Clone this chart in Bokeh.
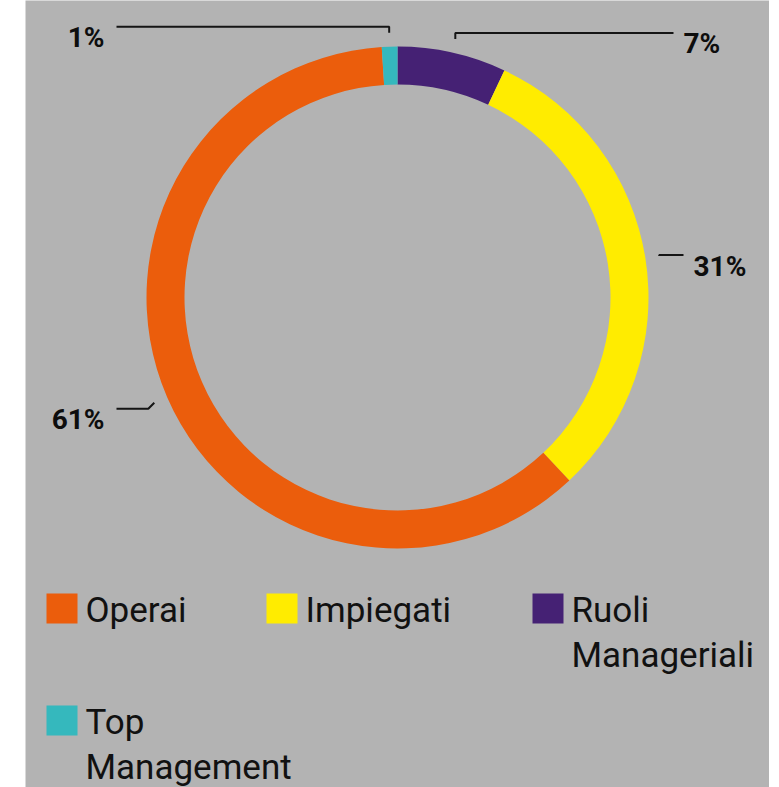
import math
from bokeh.plotting import figure
from bokeh.models import Range1d, Spacer
from bokeh.layouts import row
from bokeh.embed import file_html
from bokeh.resources import INLINE
from bokeh.core.properties import value

# ---- data (clockwise from 12 o'clock) ----
categories = ["Ruoli Manageriali", "Impiegati", "Operai", "Top Management"]
shares = [7, 31, 61, 1]
pct_labels = ["7%", "31%", "61%", "1%"]
colors = ["#452174", "#ffec00", "#eb5d0c", "#35b8bd"]
legend_order = ["Operai", "Impiegati", "Ruoli Manageriali", "Top Management"]

# ---- layout (page pixels) ----
BG = "#b3b3b3"
PAGE_X0, PAGE_Y0 = 25, 0
W, H = 744, 787
CX, CY = 397, 297
R_OUT, R_IN = 251, 213
R_LEAD = 265
# leader: (elbow dx, elbow dy, horizontal end x, side)
leader_layout = {
    "Ruoli Manageriali": (0, -6, 673, "right"),
    "Impiegati": (0, -1, 683, "right"),
    "Operai": (-6, 6, 116, "left"),
    "Top Management": (0, -6, 116, "left"),
}
legend_pos = [(46, 593), (266, 593), (532, 593), (46, 705)]
SQ_W, SQ_H = 31, 30
LINE_STEP = 45
PCT_BASE = 11    # label baseline below leader line
LEG_BASE = 17    # legend first baseline below square top

def py(y):
    return -y

p = figure(width=W, height=H,
           x_range=Range1d(PAGE_X0, PAGE_X0 + W),
           y_range=Range1d(-(PAGE_Y0 + H), -PAGE_Y0),
           output_backend="svg", toolbar_location=None,
           x_axis_type=None, y_axis_type=None, min_border=0,
           background_fill_color=BG, border_fill_color=BG,
           outline_line_color=None)
p.grid.visible = False

total = float(sum(shares))
starts, ends, mids = [], [], []
cum = 0.0
for s in shares:
    starts.append(math.pi / 2 - 2 * math.pi * cum / total)
    ends.append(math.pi / 2 - 2 * math.pi * (cum + s) / total)
    mids.append(math.pi / 2 - 2 * math.pi * (cum + s / 2) / total)
    cum += s

p.annular_wedge(x=[CX] * len(shares), y=[py(CY)] * len(shares),
                inner_radius=R_IN, outer_radius=R_OUT,
                start_angle=starts, end_angle=ends, direction="clock",
                fill_color=colors, line_color=None)

# leaders and percentage labels
xs, ys = [], []
lx, ly, la = [], [], []
for cat, m, lab in zip(categories, mids, pct_labels):
    x0 = CX + R_LEAD * math.cos(m)
    y0 = CY - R_LEAD * math.sin(m)
    dx, dy, xend, side = leader_layout[cat]
    x1, y1 = x0 + dx, y0 + dy
    xs.append([x0, x1, xend])
    ys.append([py(y0), py(y1), py(y1)])
    if side == "right":
        lx.append(xend + 10)
        la.append("left")
    else:
        lx.append(xend - 12)
        la.append("right")
    ly.append(py(y1 + PCT_BASE))

p.multi_line(xs=xs, ys=ys, line_color="#151515", line_width=2)
p.text(x=lx, y=ly, text=pct_labels, text_align=la, text_baseline="alphabetic",
       text_font=value("Roboto"), text_font_style="bold",
       text_font_size="28px", text_color="#0d0d0d")

# legend
col_of = dict(zip(categories, colors))
ql, qr, qt, qb, qc = [], [], [], [], []
tx, ty, tt = [], [], []
for cat, (sx, sy) in zip(legend_order, legend_pos):
    ql.append(sx); qr.append(sx + SQ_W)
    qt.append(py(sy)); qb.append(py(sy + SQ_H))
    qc.append(col_of[cat])
    for i, word in enumerate(cat.split(" ")):
        tx.append(sx + SQ_W + 8)
        ty.append(py(sy + LEG_BASE + i * LINE_STEP))
        tt.append(word)

p.quad(left=ql, right=qr, top=qt, bottom=qb, fill_color=qc, line_color=None)
p.text(x=tx, y=ty, text=tt, text_align="left", text_baseline="alphabetic",
       text_font=value("Roboto"), text_font_size="35px", text_color="#111111")

layout = row(Spacer(width=PAGE_X0, height=H), p)
open("out.html", "w").write(file_html(layout, INLINE))
